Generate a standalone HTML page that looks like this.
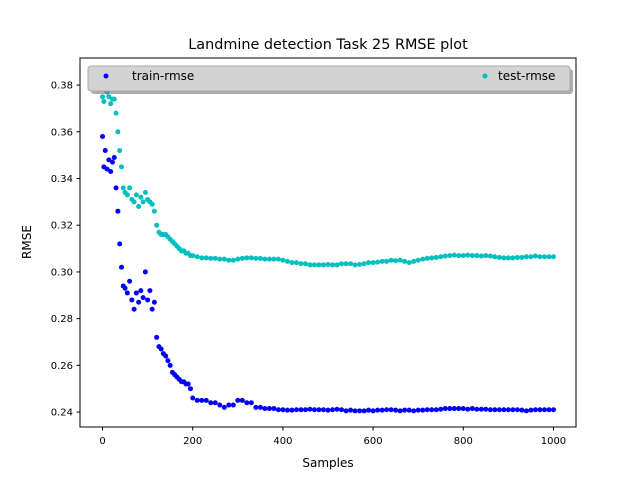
<!DOCTYPE html>
<html><head><meta charset="utf-8"><style>
body{margin:0;background:#fff;}
svg{display:block;font-family:"DejaVu Sans","Liberation Sans",sans-serif;}
</style></head><body>
<svg id="chart" width="640" height="480">
<rect x="0" y="0" width="640" height="480" fill="#fff"/>
<text x="328" y="49" font-size="14.4" text-anchor="middle">Landmine detection Task 25 RMSE plot</text>
<g id="marks"></g>
<rect x="80" y="58" width="496" height="369" fill="none" stroke="#000" stroke-width="1"/>
<g id="axes"></g>
<text x="328" y="467" font-size="12" text-anchor="middle">Samples</text>
<text transform="translate(31,242) rotate(-90)" font-size="12" text-anchor="middle">RMSE</text>
<g>
<rect x="91" y="69" width="482" height="25" rx="3" fill="#777" opacity="0.6"/>
<rect x="88" y="66" width="482" height="25" rx="3" fill="#d3d3d3" stroke="#aaa" stroke-width="1"/>
<circle cx="106" cy="76" r="2.5" fill="#0000ff"/>
<text x="132" y="80" font-size="12">train-rmse</text>
<circle cx="485" cy="76" r="2.5" fill="#00bfbf"/>
<text x="498" y="80" font-size="12">test-rmse</text>
</g>
</svg>
<script>
const xTicks=[0,200,400,600,800,1000];
const yTicks=[0.24,0.26,0.28,0.30,0.32,0.34,0.36,0.38];
const earlyX=[0,3,6,10,14,18,22,26,30,34,38,42,46,50,55,60,65,70,75,80,85,90,95,100,105,110,115,120,125,130,135,140,145,150,155,160,165,170,175,180,185,190,195];
const trainEarlyY=[0.358,0.345,0.352,0.344,0.348,0.343,0.347,0.349,0.336,0.326,0.312,0.302,0.294,0.293,0.291,0.296,0.288,0.284,0.291,0.287,0.292,0.289,0.300,0.288,0.292,0.284,0.287,0.272,0.268,0.267,0.265,0.264,0.262,0.260,0.257,0.256,0.255,0.254,0.253,0.253,0.252,0.252,0.250];
const testEarlyY=[0.375,0.373,0.378,0.377,0.375,0.372,0.374,0.374,0.368,0.360,0.352,0.345,0.336,0.334,0.333,0.336,0.331,0.330,0.333,0.328,0.332,0.330,0.334,0.331,0.330,0.329,0.326,0.320,0.317,0.316,0.316,0.316,0.315,0.314,0.313,0.312,0.311,0.310,0.309,0.309,0.308,0.308,0.307];
const trainLateY=[0.246,0.245,0.245,0.245,0.244,0.244,0.243,0.242,0.243,0.243,
0.245,0.245,0.244,0.244,0.242,0.242,0.2415,0.2415,0.2415,0.241,
0.241,0.2408,0.2408,0.241,0.241,0.241,0.2412,0.241,0.241,0.241,
0.2408,0.241,0.2412,0.241,0.2405,0.2408,0.2405,0.2405,0.2405,0.2408,
0.2405,0.2408,0.2408,0.241,0.241,0.2408,0.2405,0.2408,0.2408,0.2405,
0.2408,0.2408,0.241,0.241,0.241,0.2412,0.2415,0.2415,0.2415,0.2415,
0.2415,0.2412,0.2415,0.2412,0.2412,0.2412,0.241,0.241,0.241,0.241,
0.241,0.241,0.241,0.2408,0.2405,0.2408,0.241,0.241,0.241,0.241,0.241];
const testLateY=[0.307,0.3065,0.306,0.306,0.3058,0.3058,0.3055,0.3055,0.305,0.305,
0.3055,0.3058,0.306,0.306,0.3058,0.3058,0.3055,0.3055,0.3055,0.3055,
0.305,0.3045,0.304,0.304,0.3035,0.3035,0.303,0.303,0.303,0.303,
0.3032,0.303,0.303,0.3035,0.3035,0.3035,0.303,0.3032,0.3035,0.304,
0.304,0.3042,0.3045,0.3045,0.305,0.3048,0.305,0.3045,0.304,0.3045,
0.305,0.3055,0.3058,0.306,0.3062,0.3065,0.3068,0.307,0.3072,0.307,
0.307,0.3072,0.307,0.307,0.3068,0.307,0.3068,0.3065,0.3062,0.306,
0.306,0.306,0.3062,0.3062,0.3065,0.3065,0.3068,0.3065,0.3065,0.3065,0.3065];
const lateStart=200,lateStep=10;
const NS='http://www.w3.org/2000/svg';
const X0=80,X1=576,Y0=427,Y1=58,xmin=-50,xmax=1050,ymin=0.2336,ymax=0.3916;
function sx(v){return X0+(v-xmin)/(xmax-xmin)*(X1-X0);}
function sy(v){return Y0-(v-ymin)/(ymax-ymin)*(Y0-Y1);}
const marks=document.getElementById('marks'),axes=document.getElementById('axes');
function mk(tag,attrs,parent){const e=document.createElementNS(NS,tag);for(const k in attrs)e.setAttribute(k,attrs[k]);parent.appendChild(e);return e;}
function series(early,late,color,name){
  const xs=earlyX.concat(late.map((_,i)=>lateStart+i*lateStep));
  const ys=early.concat(late);
  xs.forEach((x,i)=>{const c=mk('circle',{cx:sx(x),cy:sy(ys[i]),r:2.5,fill:color},marks);
  
  });
}
series(trainEarlyY,trainLateY,'#0000ff','train-point');
series(testEarlyY,testLateY,'#00bfbf','test-point');
xTicks.forEach(t=>{const x=sx(t);mk('line',{x1:x,x2:x,y1:Y0,y2:Y0+3.5,stroke:'#000'},axes);
const tx=mk('text',{x:x,y:Y0+17,'font-size':10,'text-anchor':'middle'},axes);tx.textContent=t;

});
yTicks.forEach(t=>{const y=sy(t);mk('line',{x1:X0-3.5,x2:X0,y1:y,y2:y,stroke:'#000'},axes);
const tx=mk('text',{x:X0-7,y:y+3.5,'font-size':10,'text-anchor':'end'},axes);tx.textContent=t.toFixed(2);

});
</script>
</body></html>
